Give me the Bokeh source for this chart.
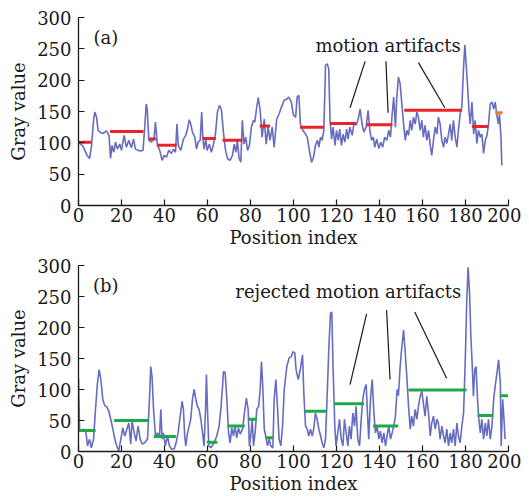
import math
from bokeh.plotting import figure
from bokeh.layouts import column
from bokeh.models import Range1d, FixedTicker, Label
from bokeh.embed import file_html
from bokeh.resources import INLINE

# ---------------- data ----------------
xa = [0, 1, 2, 3, 4, 5.1, 6, 7, 7.6, 8.4, 9.1, 10, 11.5, 13, 14.2, 14.9, 15.6, 16.4, 17.2, 18.1,
      19.2, 20, 21.2, 22.3, 23.4, 24.6, 25.6, 26.5, 27.7, 29, 30, 30.8, 31.5, 32, 32.7, 34, 35.2, 35.8,
      36.7, 37.8, 38.9, 39.8, 40.9, 42, 43.2, 44.2, 45.1, 45.8, 46.4, 47.6, 48.8, 49.9, 50.7, 51.5, 52.2,
      53, 54.1, 54.9, 55.6, 56.6, 57.3, 57.8, 58.4, 59.2, 59.8, 60.9, 61.8, 62.8, 63.7, 64.6, 65.6, 66.5,
      67.4, 68.4, 69.3, 70.5, 71.6, 72.4, 73.2, 73.9, 74.7, 75.5, 76.2, 77, 77.8, 78.6, 79.5, 80.4, 81.4,
      82, 82.9, 83.6, 84.5, 85.4, 86.4, 87.3, 88.2, 89.1, 90.1, 91, 92.2, 93.3, 94.4, 95.6, 96.9, 97.8,
      99, 100, 101, 101.7, 102.5, 103.2, 104.3, 105.6, 106.4, 107.4, 108.4, 109.3, 110.2, 111.2, 111.8,
      112.6, 113.3, 114.1, 114.9, 115.7, 116.4, 117, 117.7, 118.4, 119.3, 120, 120.8, 121.5, 122.3, 123.1,
      123.9, 124.7, 125.4, 126.2, 127.3, 128.2, 129.1, 130.1, 131, 131.9, 132.7, 133.8, 134.7, 135.5,
      136.3, 137.1, 137.8, 138.7, 139.7, 140.6, 141.5, 142.4, 143.4, 144.3, 145.1, 145.9, 146.6, 147.4,
      148, 148.8, 149.6, 150.4, 151.2, 152, 152.7, 153.5, 154.3, 155, 155.8, 156.6, 157.4, 158.1, 158.9,
      159.7, 160.4, 161.2, 162, 162.8, 163.6, 164.3, 165.1, 165.9, 166.7, 167.4, 168.2, 169, 169.8,
      170.5, 171.3, 172.1, 172.9, 173.6, 174.4, 175.2, 176, 176.7, 177.5, 178.3, 179.1, 179.7, 180.3,
      181, 181.6, 182.2, 183, 183.8, 184.5, 185.3, 186, 186.9, 187.6, 188.4, 189.2, 190, 190.7, 191.5,
      192.3, 193.1, 193.8, 194.6, 195.3, 195.8, 196.5, 196.9]
ya = [101, 98, 95, 88, 80, 75, 93, 136, 149, 141, 120, 117, 115, 119, 112, 75, 96, 85, 101, 90,
      98, 88, 112, 93, 104, 92, 106, 90, 88, 87, 88, 125, 162, 152, 104, 101, 109, 133,
      96, 88, 72, 80, 77, 88, 83, 90, 85, 130, 96, 88, 106, 112, 122, 137, 130,
      117, 109, 90, 101, 104, 149, 109, 90, 106, 88, 98, 85, 98, 114, 149, 160, 152,
      117, 88, 75, 72, 80, 98, 85, 104, 75, 69, 136, 98, 109, 88, 96, 125, 136,
      133, 157, 172, 152, 109, 138, 98, 125, 104, 125, 93, 138, 146, 157, 168, 170, 173,
      165, 144, 141, 173, 176, 130, 120, 114, 109, 88, 69, 77, 96, 104, 93,
      109, 104, 120, 224, 226, 218, 136, 106, 125, 96, 120, 104, 122, 96, 114,
      101, 122, 106, 125, 112, 133, 128, 138, 154, 130, 117, 125, 152, 120,
      104, 109, 93, 106, 91, 101, 93, 109, 104, 120, 109, 146, 173, 125,
      170, 205, 194, 162, 130, 104, 120, 112, 136, 120, 141, 130, 149, 141, 120,
      136, 109, 128, 104, 120, 96, 80, 104, 125, 114, 141, 130, 104, 93,
      109, 99, 114, 130, 104, 136, 109, 93, 120, 146, 157, 221, 256, 226,
      189, 152, 130, 165, 114, 136, 99, 120, 109, 114, 83, 104, 112, 130, 162,
      165, 154, 165, 144, 130, 146, 109, 64]

xb = [0, 0.5, 1.4, 2.6, 3.5, 4.2, 5.1, 6, 7, 7.9, 8.8, 9.6, 10.4, 11.3, 12.2, 13.2, 14.1, 15, 16,
      16.9, 17.8, 18.7, 19.7, 20.6, 21.5, 22.5, 23.4, 24.3, 24.9, 25.9, 26.8, 27.7, 28.7, 29.6, 30.8,
      32.1, 33, 33.6, 34.2, 34.9, 35.8, 36.7, 37.7, 38.3, 38.9, 39.5, 40.4, 41.4, 42.3, 43.2, 44.5,
      45.4, 46.3, 47.3, 48.2, 48.8, 49.4, 49.9, 50.7, 51.5, 52.2, 53, 53.8, 54.6, 55.3, 56.1, 56.9,
      57.7, 58.4, 59.1, 59.5, 60, 60.6, 61.5, 63.1, 64.3, 65.4, 66.2, 67, 67.4, 68.2, 69, 69.8, 70.5,
      71.3, 72.1, 72.8, 73.6, 74.4, 75.2, 76.3, 77.3, 78.1, 78.9, 79.5, 80.1, 80.8, 81.4, 82.3, 82.9,
      83.8, 84.5, 85.1, 85.7, 86.4, 87.1, 87.9, 88.7, 89.4, 90.4, 91, 91.8, 92.6, 93.3, 94.1, 94.9,
      95.7, 96.9, 98, 99, 99.7, 100.6, 101.2, 102.2, 103, 104.2, 104.8, 105.6, 106.4, 107.1, 107.9,
      108.7, 109.5, 110.2, 111, 111.8, 112.6, 113.3, 114.1, 114.9, 115.6, 116.4, 117.2, 117.8, 118.4,
      119.2, 119.8, 120.6, 121.4, 122.2, 123, 123.7, 124.5, 125.3, 126, 126.8, 127.6, 128.4, 129.1,
      129.9, 130.7, 131.5, 132.2, 133, 133.8, 134.4, 135, 135.8, 136.6, 137.3, 138.1, 138.9, 139.7,
      140.4, 141.2, 142, 142.8, 143.5, 144.3, 145.1, 145.9, 146.6, 147.4, 148.2, 148.8, 149.6, 150.4,
      151.2, 152, 152.7, 153.5, 154.3, 155, 155.8, 156.6, 157.4, 158.1, 158.9, 159.7, 160.4, 161.2,
      162, 162.8, 163.6, 164.3, 165.1, 165.9, 166.7, 167.4, 168.2, 169, 169.8, 170.5, 171.3, 172.1,
      172.9, 173.6, 174.4, 175.2, 176, 176.7, 177.5, 178.3, 179.1, 179.9, 180.6, 181.2, 181.9, 182.5,
      183.1, 183.7, 184.3, 184.9, 185.6, 186.2, 186.9, 187.6, 188.4, 189.2, 189.9, 190.7, 191.5, 192.3,
      193.1, 193.8, 194.6, 195.4, 196.2, 196.6, 197.3, 197.9, 198.4]
yb = [118, 36, 33, 36, 30, 9, 20, 6, 20, 68, 110, 132, 116, 84, 74, 72, 65, 52, 36,
      20, 9, 1, 20, 38, 25, 36, 46, 12, 49, 30, 17, 41, 20, 12, 14,
      20, 84, 137, 121, 68, 25, 30, 25, 68, 20, 30, 9, 25, 9, 4, 4,
      14, 30, 57, 81, 68, 25, 9, 30, 41, 52, 84, 100, 84, 73, 68, 52,
      30, 9, 68, 124, 68, 9, 6, 14, 25, 41, 68, 105, 129, 127, 84, 30, 14,
      38, 25, 41, 22, 38, 28, 36, 65, 86, 68, 9, 25, 52, 9, 36, 68,
      73, 100, 145, 105, 36, 25, 9, 20, 9, 6, 84, 116, 68, 20, 9, 41,
      100, 137, 151, 153, 161, 159, 132, 116, 129, 156, 94, 41, 36, 25, 36,
      25, 38, 62, 52, 36, 25, 14, 6, 20, 84, 164, 223, 225, 137,
      41, 9, 30, 52, 20, 9, 52, 30, 9, 41, 20, 62, 41, 73,
      20, 9, 52, 84, 100, 108, 62, 20, 84, 116, 68, 30, 41, 20,
      33, 14, 30, 9, 25, 41, 20, 30, 41, 57, 100, 90, 137, 169,
      196, 158, 121, 73, 36, 57, 41, 68, 52, 73, 89, 97, 78, 57,
      89, 62, 25, 46, 57, 36, 52, 46, 20, 41, 25, 14, 36, 9,
      30, 14, 36, 9, 46, 25, 14, 41, 62, 148, 244, 297, 255, 185,
      142, 89, 132, 137, 84, 52, 30, 52, 20, 46, 25, 52, 20, 41,
      84, 105, 126, 148, 110, 9, 84, 52, 20]

# mean levels (segments): start, end, level
seg_a_x0 = [0, 14.7, 32.8, 36.7, 57.7, 67, 84.3, 103, 117, 134, 151.5, 183]
seg_a_x1 = [6, 30.2, 36, 45.6, 63.9, 76.3, 89.1, 114.2, 129, 146, 178.3, 190.5]
seg_a_y = [101, 118, 106, 96, 107, 104, 127, 125, 131, 129, 152, 126]
last_a_x0 = [193.8]
last_a_x1 = [197.2]
last_a_y = [148]

seg_b_x0 = [0, 16.6, 35, 59.7, 69.3, 78.9, 87, 105.4, 118.9, 137, 153.5, 185.6, 196]
seg_b_x1 = [8, 32.8, 45.3, 64.6, 77.3, 83, 90.4, 115.5, 132.8, 148.7, 180.5, 192.9, 199.8]
seg_b_y = [34, 50, 24, 15, 41, 52, 22, 65, 77, 41, 99, 58, 90]

# annotation pointer lines
ann_a_x0 = [133.3, 143.0, 158.1]
ann_a_y0 = [230, 230, 228]
ann_a_x1 = [126.3, 144.0, 170.4]
ann_a_y1 = [156, 148, 156]
ann_b_x0 = [134.0, 143.3, 156.4]
ann_b_y0 = [222, 228, 225]
ann_b_x1 = [126.3, 144.9, 171.2]
ann_b_y1 = [108, 116, 118]

x_ticks = [0, 20, 40, 60, 80, 100, 120, 140, 160, 180, 200]
y_ticks = [0, 50, 100, 150, 200, 250, 300]

FONT = "DejaVu Serif"
FS = "18px"
SIG = "#4b52b5"
INK = "#1a1a1a"


def make_panel(height, top, bottom, xs, ys, segs, ann, tag, ann_text, ann_x, ann_y):
    p = figure(width=521, height=height, output_backend="svg", toolbar_location=None,
               x_range=Range1d(0, 200), y_range=Range1d(0, 300),
               min_border_left=78, min_border_right=13, min_border_top=top,
               min_border_bottom=bottom)
    p.outline_line_color = None
    p.xgrid.grid_line_color = None
    p.ygrid.grid_line_color = None
    p.background_fill_color = "white"
    for ax, ticks in ((p.xaxis, x_ticks), (p.yaxis, y_ticks)):
        ax.ticker = FixedTicker(ticks=ticks)
        ax.major_tick_in = 6
        ax.major_tick_out = 0
        ax.minor_tick_line_color = None
        ax.axis_line_width = 1.3
        ax.axis_line_color = INK
        ax.major_tick_line_color = INK
        ax.major_tick_line_width = 1.2
        ax.major_label_text_font = FONT
        ax.major_label_text_font_size = FS
        ax.major_label_text_color = INK
        ax.axis_label_text_font = FONT
        ax.axis_label_text_font_size = FS
        ax.axis_label_text_font_style = "normal"
        ax.axis_label_text_color = INK
    p.yaxis.major_label_standoff = 7
    p.xaxis.major_label_standoff = 2
    p.xaxis.axis_label = "Position index"
    p.xaxis.axis_label_standoff = 2
    p.yaxis.axis_label = "Gray value"
    p.yaxis.axis_label_standoff = 5

    p.line(xs, ys, line_color=SIG, line_width=1.6, line_alpha=0.85)
    for (x0, x1, yv, col) in segs:
        p.segment(x0=x0, y0=yv, x1=x1, y1=yv, line_color=col, line_width=3)
    p.segment(x0=ann[0], y0=ann[1], x1=ann[2], y1=ann[3], line_color=INK, line_width=1.2)

    p.add_layout(Label(x=12.7, y=268, text=tag, text_font=FONT, text_font_size=FS,
                       text_align="center", text_baseline="middle", text_color=INK))
    p.add_layout(Label(x=ann_x, y=ann_y, text=ann_text, text_font=FONT, text_font_size=FS,
                       text_align="center", text_baseline="middle", text_color=INK))
    return p


pa = make_panel(252, 17, 47, xa, ya,
                [(seg_a_x0, seg_a_x1, seg_a_y, "#e8232b"), (last_a_x0, last_a_x1, last_a_y, "#f07a22")],
                (ann_a_x0, ann_a_y0, ann_a_x1, ann_a_y1), "(a)", "motion artifacts", 144, 256)
pb = make_panel(244, 13, 44, xb, yb,
                [(seg_b_x0, seg_b_x1, seg_b_y, "#1fa84a")],
                (ann_b_x0, ann_b_y0, ann_b_x1, ann_b_y1), "(b)", "rejected motion artifacts",
                125.5, 258)

layout = column(pa, pb)
open("out.html", "w").write(file_html(layout, INLINE))
